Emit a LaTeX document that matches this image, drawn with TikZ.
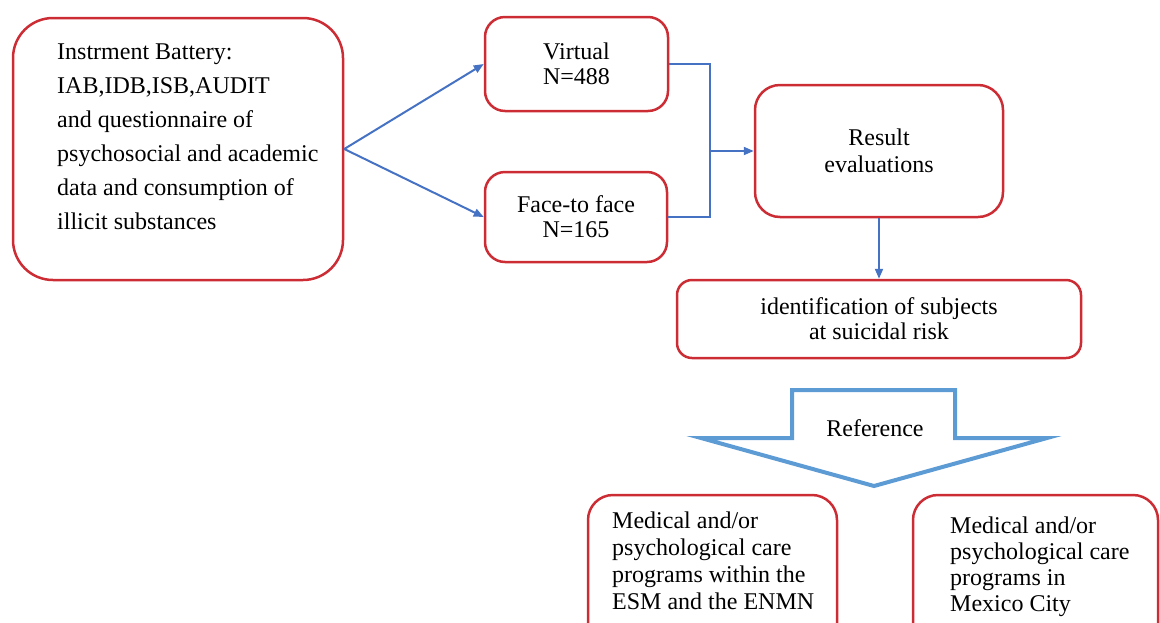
\documentclass[tikz,border=0pt]{standalone}
\usepackage{fontspec}
\setmainfont{Liberation Serif}
\usetikzlibrary{arrows.meta}
\definecolor{boxred}{RGB}{204,45,52}
\definecolor{linkblue}{RGB}{70,114,196}
\definecolor{refblue}{RGB}{93,155,213}

\begin{document}
\begin{tikzpicture}[x=1pt,y=-1pt,
	box/.style={draw=boxred,line width=2.5pt,rounded corners=#1,inner sep=0pt,align=center,font=\fontsize{24}{25}\selectfont},
	box/.default=20pt,
	link/.style={draw=linkblue,line width=2pt,-{Triangle[length=10pt,width=8pt]}},
	txt/.style={anchor=north west,inner sep=0pt,align=left}]
	\useasboundingbox (0,0) rectangle (1160,622);
	% instruments
	\node[box=40pt,minimum width=330pt,minimum height=262pt] (battery) at (178,149) {};
	\node[txt,font=\fontsize{24}{34}\selectfont] (batterytxt) at (57,44) {Instrment Battery:\\IAB,IDB,ISB,AUDIT\\and questionnaire of\\psychosocial and academic\\data and consumption of\\illicit substances};
	% samples
	\node[box,minimum width=183pt,minimum height=94pt] (virt) at (576.5,64) {Virtual\\N=488};
	\node[box,minimum width=182pt,minimum height=90pt] (face) at (576,217) {Face-to face\\N=165};
	\node[box=25pt,minimum width=248pt,minimum height=132pt,font=\fontsize{24}{27}\selectfont] (result) at (879,151) {Result\\evaluations};
	\node[box=15pt,minimum width=404pt,minimum height=78pt] (ident) at (879,319) {identification of subjects\\at suicidal risk};
	% programs
	\node[box=25pt,minimum width=249pt,minimum height=160pt] (esm) at (712.5,575) {};
	\node[txt,font=\fontsize{24}{27}\selectfont] (esmtxt) at (612,512) {Medical and/or\\psychological care\\programs within the\\ESM and the ENMN};
	\node[box=25pt,minimum width=245pt,minimum height=160pt] (cdmx) at (1035.5,575) {};
	\node[txt,font=\fontsize{24}{26}\selectfont] (cdmxtxt) at (950,517) {Medical and/or\\psychological care\\programs in\\Mexico City};
	% big arrow
	\draw[refblue,line width=4pt,line join=miter] (792,390) -- (955,390) -- (955,438) -- (1047,438) -- (874,486) -- (701,438) -- (792,438) -- cycle;
	\node[font=\fontsize{24}{25}\selectfont] (reftxt) at (875,428) {Reference};
	% connectors
	\coordinate (join) at (710,151);
	\draw[link] (battery.east) -- (virt.west);
	\draw[link] (battery.east) -- (face.west);
	\draw[draw=linkblue,line width=2pt] (virt.east) -| (join) |- (face.east);
	\draw[link] (join) -- (result.west);
	\draw[link] (result.south) -- (ident.north);
\end{tikzpicture}
\end{document}
